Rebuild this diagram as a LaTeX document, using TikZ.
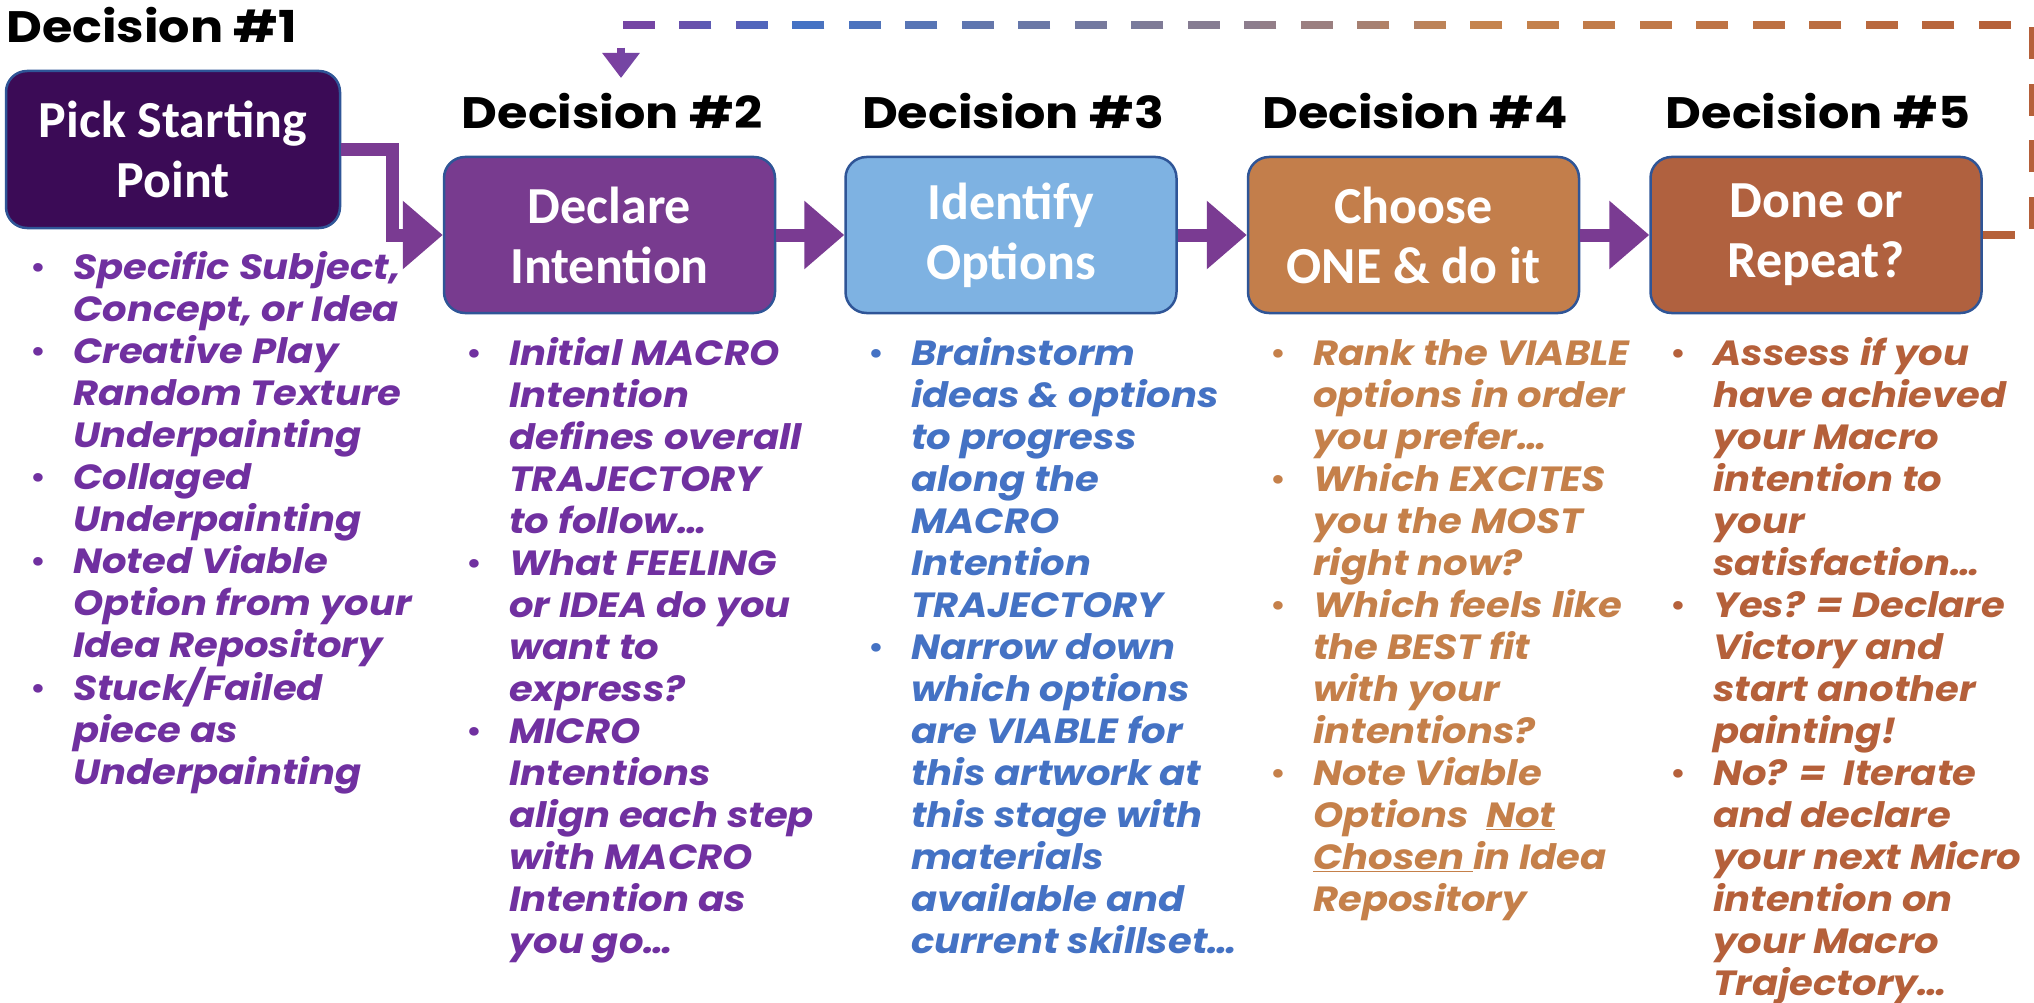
\documentclass[tikz,border=0pt]{standalone}
\usepackage{fontspec}
\setmainfont{Carlito}
\newfontfamily\headfont[FakeStretch=1.12]{Poppins}
\newfontfamily\bodyfont[FakeStretch=1.1]{Poppins}
\usetikzlibrary{arrows.meta}
\definecolor{boxline}{HTML}{2F5597}
\definecolor{fillA}{HTML}{3B0B56}
\definecolor{fillB}{HTML}{783B8F}
\definecolor{fillC}{HTML}{7EB2E2}
\definecolor{fillD}{HTML}{C37E4B}
\definecolor{fillE}{HTML}{B0613F}
\definecolor{arrowc}{HTML}{7A3B92}
\definecolor{txA}{HTML}{7030A0}
\definecolor{txC}{HTML}{4472C4}
\definecolor{txD}{HTML}{C5804A}
\definecolor{txE}{HTML}{B5603A}
\definecolor{fbA}{HTML}{7B3FA0}
\definecolor{fbB}{HTML}{4472C4}
\definecolor{fbC}{HTML}{967E86}
\definecolor{fbD}{HTML}{C5844E}
\definecolor{fbE}{HTML}{B5603A}
\newcommand\colbullet{\llap{{\upshape\mdseries•}\hspace{27pt}}}
\newcommand\firststrut{\rule{0pt}{30pt}}
\begin{document}
\begin{tikzpicture}[x=1pt,y=-1pt,
  box/.style={draw=boxline, line width=2.5pt, rounded corners=21pt,
    minimum width=331pt, minimum height=156pt, inner sep=0pt, text=white,
    align=center, font=\fontsize{52}{60}\selectfont\bfseries},
  hdr/.style={font=\headfont\bfseries\fontsize{44}{50}\selectfont, inner sep=0pt, text=black},
  col/.style={font=\bodyfont\bfseries\itshape\fontsize{35}{42}\selectfont,
    anchor=north west, inner sep=0pt, align=left},
  flow/.style={draw=arrowc, line width=13pt, -{Triangle[length=40pt,width=66pt]}},
  fb/.style={line width=8pt, dash pattern=on 32pt off 24.5pt,
    -{Triangle[length=25pt,width=36pt]}}]
\fill[white] (0,0) rectangle (2034,1003);
\useasboundingbox (0,0) rectangle (2034,1003);

% boxes
\node[box, fill=fillA, minimum width=334pt, minimum height=157pt] (b1) at (173,149.5) {Pick Starting\\Point};
\node[box, fill=fillB] (b2) at (609.5,235) {Declare\\Intention};
\node[box, fill=fillC] (b3) at (1011,235) {Identify\\Options};
\node[box, fill=fillD] (b4) at (1413.5,235) {Choose\\ONE \& do it};
\node[box, fill=fillE] (b5) at (1816,235) {Done or\\Repeat?};

% headers
\node[hdr, anchor=base west] (h1) at (6,43) {Decision \#1};
\node[hdr, anchor=base] (h2) at (612,129) {Decision \#2};
\node[hdr, anchor=base] (h3) at (1013,129) {Decision \#3};
\node[hdr, anchor=base] (h4) at (1415,129) {Decision \#4};
\node[hdr, anchor=base] (h5) at (1818,129) {Decision \#5};

% flow arrows
\draw[flow] (b1.east) -- ++(51,0) |- (b2.west);
\draw[flow] (b2.east) -- (b3.west);
\draw[flow] (b3.east) -- (b4.west);
\draw[flow] (b4.east) -- (b5.west);

% feedback loop (dashed, colour gradient)
\coordinate (fbR) at (2033,235);
\coordinate (fbTR) at (2033,25);
\coordinate (fbTL) at (621,25);
\coordinate (fbTip) at (621,78);
\foreach \i in {0,...,37}{
  \pgfmathsetmacro\xa{540+40*\i}
  \pgfmathsetmacro\xb{\xa+40}
  \pgfmathsetmacro\xm{\xa+20}
  \pgfmathtruncatemacro\seg{\xm<800 ? 1 : (\xm<1300 ? 2 : (\xm<1470 ? 3 : 4))}
  \pgfmathtruncatemacro\pct{\seg==1 ? max(0,min(100,(\xm-620)/1.8)) : (\seg==2 ? (\xm-800)/5 : (\seg==3 ? (\xm-1300)/1.7 : min(100,(\xm-1470)/5.4)))}
  \ifcase\seg\or\colorlet{sc}{fbB!\pct!fbA}\or\colorlet{sc}{fbC!\pct!fbB}\or\colorlet{sc}{fbD!\pct!fbC}\or\colorlet{sc}{fbE!\pct!fbD}\fi
  \begin{scope}
    \clip (\xa,-20) rectangle (\xb,1020);
    \draw[fb, draw=sc] (b5.east) -- (fbR) -- (fbTR) -- (fbTL) -- (fbTip);
  \end{scope}
}

% columns (top = first baseline - 30)
\node[col, text=txA] (c1) at (73,249) {%
\firststrut\colbullet Specific Subject,\\ Concept, or Idea\\
\colbullet Creative Play\\ Random Texture\\ Underpainting\\
\colbullet Collaged\\ Underpainting\\
\colbullet Noted Viable\\ Option from your\\ Idea Repository\\
\colbullet Stuck/Failed\\ piece as\\ Underpainting};
\node[col, text=txA] (c2) at (509,335) {%
\firststrut\colbullet Initial MACRO\\ Intention\\ defines overall\\ TRAJECTORY\\ to follow…\\
\colbullet What FEELING\\ or IDEA do you\\ want to\\ express?\\
\colbullet MICRO\\ Intentions\\ align each step\\ with MACRO\\ Intention as\\ you go…};
\node[col, text=txC] (c3) at (911,335) {%
\firststrut\colbullet Brainstorm\\ ideas \& options\\ to progress\\ along the\\ MACRO\\ Intention\\ TRAJECTORY\\
\colbullet Narrow down\\ which options\\ are VIABLE for\\ this artwork at\\ this stage with\\ materials\\ available and\\ current skillset…};
\node[col, text=txD] (c4) at (1313,335) {%
\firststrut\colbullet Rank the VIABLE\\ options in order\\ you prefer…\\
\colbullet Which EXCITES\\ you the MOST\\ right now?\\
\colbullet Which feels like\\ the BEST fit\\ with your\\ intentions?\\
\colbullet Note Viable\\ Options\ \ \underline{Not}\\ \underline{Chosen }in Idea\\ Repository};
\node[col, text=txE] (c5) at (1713,335) {%
\firststrut\colbullet Assess if you\\ have achieved\\ your Macro\\ intention to\\ your\\ satisfaction…\\
\colbullet Yes? = Declare\\ Victory and\\ start another\\ painting!\\
\colbullet No? =\ \ Iterate\\ and declare\\ your next Micro\\ intention on\\ your Macro\\ Trajectory…};
\end{tikzpicture}
\end{document}
